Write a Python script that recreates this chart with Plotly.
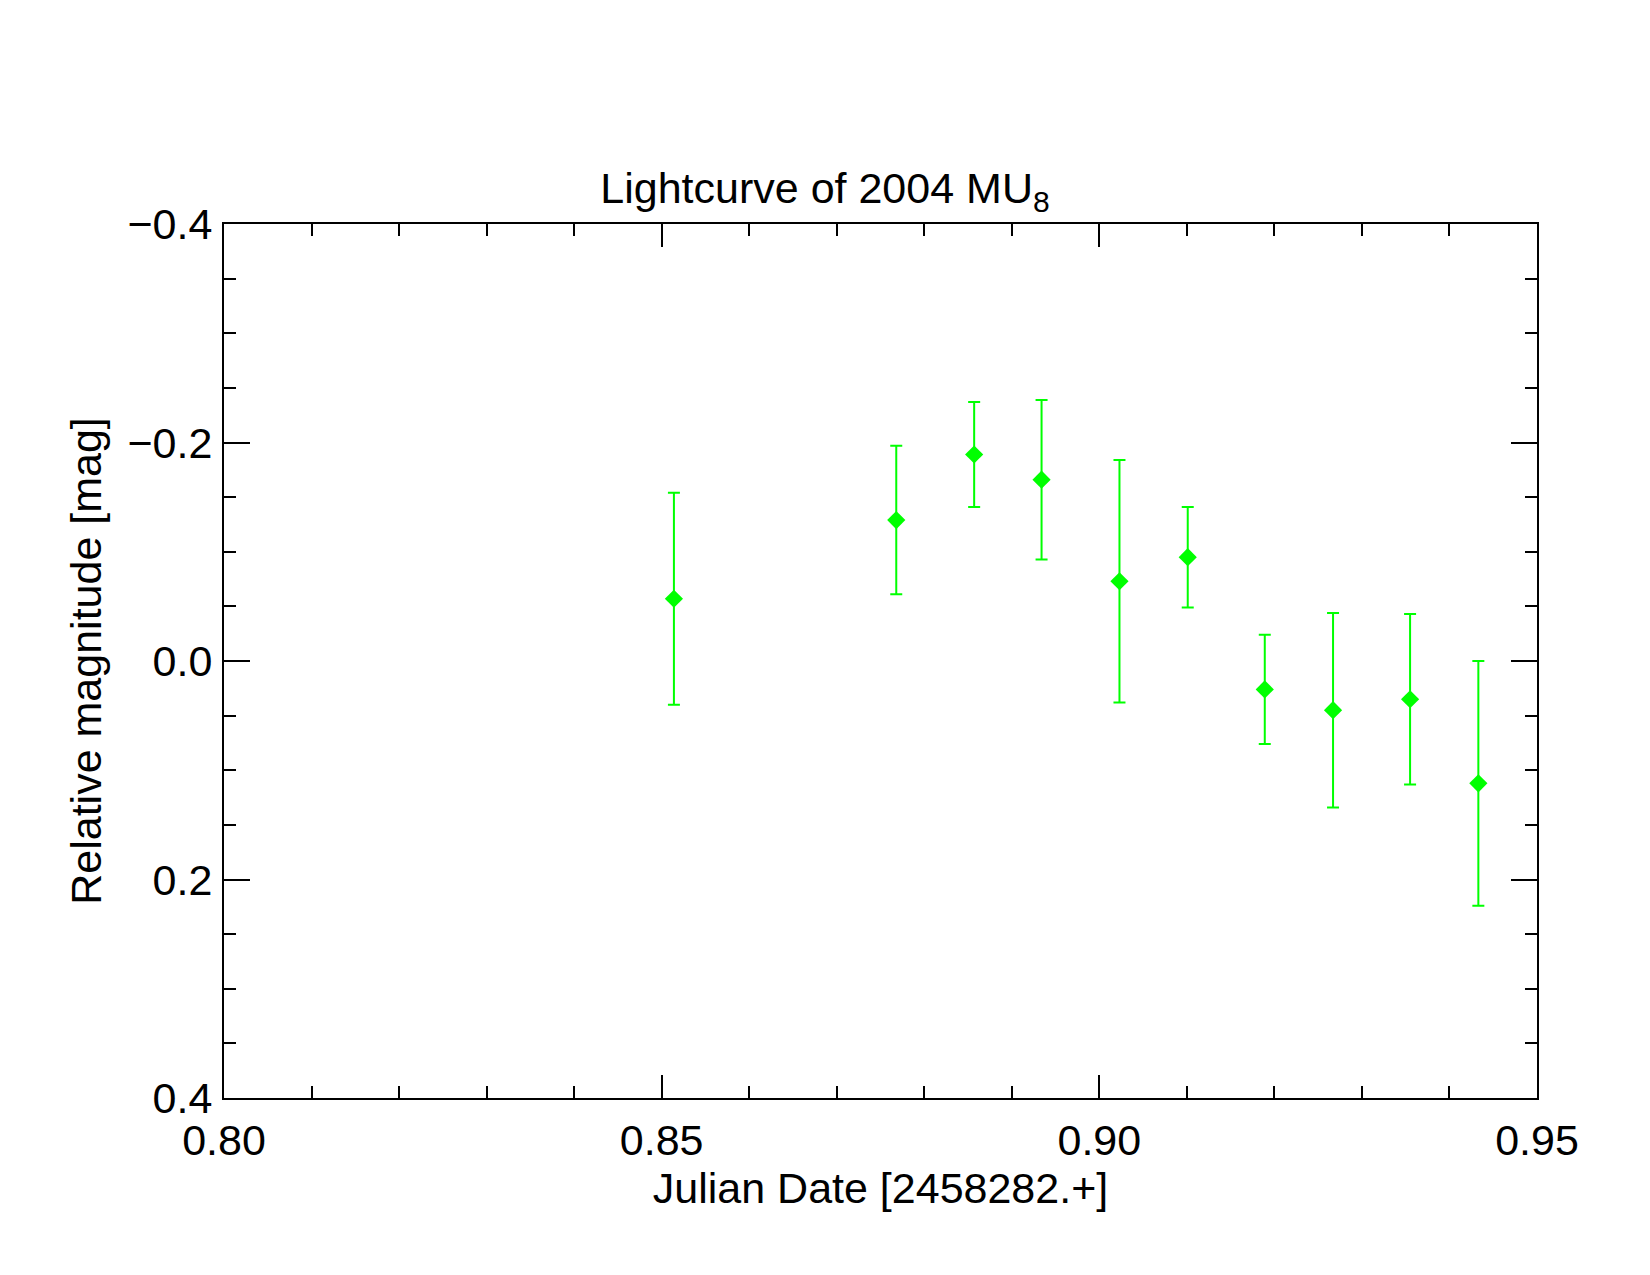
import plotly.graph_objects as go

# Data
jd = [0.8514, 0.8768, 0.8857, 0.8934, 0.9023, 0.9101, 0.9189, 0.9267, 0.9355, 0.9433]
mag = [-0.057, -0.129, -0.189, -0.166, -0.073, -0.095, 0.026, 0.045, 0.035, 0.112]
err = [0.097, 0.068, 0.048, 0.073, 0.111, 0.046, 0.050, 0.089, 0.078, 0.112]

x_ticks = [0.80, 0.85, 0.90, 0.95]
y_ticks = [-0.4, -0.2, 0.0, 0.2, 0.4]

GREEN = "#00FF00"
FONT = "Liberation Sans, Arial, Helvetica, sans-serif"

fig = go.Figure()
fig.add_trace(go.Scatter(
    x=jd, y=mag, mode="markers",
    marker=dict(symbol="diamond", size=14, color=GREEN, line=dict(width=0)),
    error_y=dict(type="data", array=err, visible=True, color=GREEN,
                 thickness=2, width=6),
    showlegend=False,
))

axis_common = dict(
    showgrid=False, zeroline=False, showline=True, linecolor="black",
    linewidth=2, mirror="ticks", ticks="inside", tickcolor="black",
    tickwidth=1.5, tickfont=dict(family=FONT, size=43, color="black"),
)

fig.update_layout(
    width=1650, height=1275,
    margin=dict(l=224, r=113, t=224, b=177),
    paper_bgcolor="white", plot_bgcolor="white",
    font=dict(family=FONT, color="black"),
    title=dict(text="Lightcurve of 2004 MU<sub>8</sub>", x=0.5, xref="container",
               xanchor="center", y=1 - 203 / 1275, yref="container",
               yanchor="bottom", font=dict(family=FONT, size=43, color="black")),
    xaxis=dict(range=[0.80, 0.95], tickvals=x_ticks, tickformat=".2f",
               ticklen=23, ticklabelstandoff=3,
               minor=dict(dtick=0.01, tick0=0.80, ticks="inside", ticklen=12,
                          tickwidth=1.5, tickcolor="black", showgrid=False),
               title=dict(text="Julian Date [2458282.+]", standoff=5,
                          font=dict(family=FONT, size=43, color="black")),
               **axis_common),
    yaxis=dict(range=[0.4, -0.4], tickvals=y_ticks, tickformat=".1f",
               ticklen=26, ticklabelstandoff=1,
               minor=dict(dtick=0.05, tick0=-0.4, ticks="inside", ticklen=12,
                          tickwidth=1.5, tickcolor="black", showgrid=False),
               title=dict(text="Relative magnitude [mag]", standoff=12,
                          font=dict(family=FONT, size=43, color="black")),
               **axis_common),
)

fig.write_html("out.html")
